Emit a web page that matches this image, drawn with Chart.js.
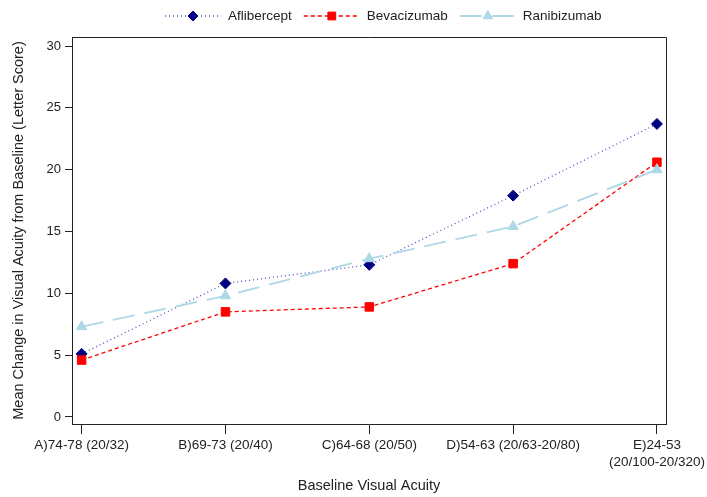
<!DOCTYPE html>
<html>
<head>
<meta charset="utf-8">
<script src="https://cdn.jsdelivr.net/npm/chart.js@4"></script>
<style>
  html, body { margin: 0; padding: 0; background: #fff; }
  canvas { display: block; }
</style>
</head>
<body>
<canvas id="acuityChart" width="707" height="497"></canvas>
<script>
// category labels (last one wraps on two lines)
const categories = [
  "A)74-78 (20/32)",
  "B)69-73 (20/40)",
  "C)64-68 (20/50)",
  "D)54-63 (20/63-20/80)",
  ["E)24-53", "(20/100-20/320)"]
];
const aflibercept = [5.1, 10.8, 12.3, 17.9, 23.7];
const bevacizumab = [4.6, 8.5, 8.9, 12.4, 20.6];
const ranibizumab = [7.3, 9.8, 12.8, 15.4, 20.0];
const yTicks = [0, 5, 10, 15, 20, 25, 30];

const FONT = "'Liberation Sans', Arial, Helvetica, sans-serif";

function toPoints(values) {
  return values.map((v, i) => ({ x: i, y: v }));
}

const seriesStyle = [
  { label: "Aflibercept", data: aflibercept, line: "#5050c0", fill: "#000080", dash: [1, 3], width: 1.3, shape: "rectRot", radius: 5.5 },
  { label: "Bevacizumab", data: bevacizumab, line: "#ff0000", fill: "#ff0000", dash: [4, 3], width: 1.3, shape: "rect", radius: 6 },
  { label: "Ranibizumab", data: ranibizumab, line: "#add8e6", fill: "#add8e6", dash: [22, 10], width: 1.8, shape: "triangle", radius: 6 }
];

// frame on all four sides + legend with line samples
const framePlugin = {
  id: "frameAndLegend",
  afterDraw(chart) {
    const { ctx, chartArea } = chart;
    ctx.save();
    ctx.strokeStyle = "#222";
    ctx.lineWidth = 1;
    ctx.beginPath();
    ctx.moveTo(chartArea.left, chartArea.top + 0.5);
    ctx.lineTo(chartArea.right + 0.5, chartArea.top + 0.5);
    ctx.lineTo(chartArea.right + 0.5, chartArea.bottom);
    ctx.stroke();

    // legend
    ctx.font = "13.5px " + FONT;
    ctx.textBaseline = "middle";
    let x = 165;
    const y = 16;
    seriesStyle.forEach((s) => {
      ctx.strokeStyle = s.line;
      ctx.lineWidth = s.width;
      ctx.setLineDash(s.dash);
      ctx.beginPath();
      ctx.moveTo(x, y);
      ctx.lineTo(x + 55, y);
      ctx.stroke();
      ctx.setLineDash([]);
      ctx.fillStyle = s.fill;
      ctx.strokeStyle = s.fill;
      ctx.lineWidth = 1;
      Chart.helpers.drawPoint(ctx, { pointStyle: s.shape, radius: s.radius - 0.5, borderWidth: 1 }, x + 28, y);
      ctx.fillStyle = "#222";
      ctx.fillText(s.label, x + 63, y);
      x += 63 + ctx.measureText(s.label).width + 12;
    });
    ctx.restore();
  }
};

const ctx = document.getElementById("acuityChart").getContext("2d");
const myChart = new Chart(ctx, {
  type: "line",
  data: {
    datasets: seriesStyle.map((s, i) => ({
      label: s.label,
      data: toPoints(s.data),
      borderColor: s.line,
      borderWidth: s.width,
      borderDash: s.dash,
      pointStyle: s.shape,
      pointRadius: s.radius,
      pointBackgroundColor: s.fill,
      pointBorderColor: s.fill,
      pointBorderWidth: 1,
      tension: 0,
      order: 3 - i
    }))
  },
  options: {
    responsive: false,
    animation: false,
    devicePixelRatio: 1,
    layout: { padding: { top: 37, right: 41, left: 0, bottom: 0 } },
    plugins: { legend: { display: false }, tooltip: { enabled: false } },
    scales: {
      x: {
        type: "linear",
        min: -0.067,
        max: 4.063,
        afterBuildTicks: (scale) => { scale.ticks = categories.map((c, i) => ({ value: i })); },
        afterFit: (scale) => {
          scale.height = 73;
          scale.paddingLeft = 0;
          scale.paddingRight = 0;
        },
        grid: { drawOnChartArea: false, drawTicks: true, tickLength: 10, tickColor: "#222" },
        border: { display: true, color: "#222", width: 1 },
        ticks: {
          autoSkip: false,
          maxRotation: 0,
          padding: 3,
          color: "#222",
          font: { family: FONT, size: 13.5, lineHeight: 1.26 },
          callback: (v) => categories[v]
        },
        title: {
          display: true,
          text: "Baseline Visual Acuity",
          color: "#222",
          font: { family: FONT, size: 14.5 },
          padding: { top: 0, bottom: 2.3 }
        }
      },
      y: {
        min: -0.57,
        max: 30.73,
        afterBuildTicks: (scale) => { scale.ticks = yTicks.map((v) => ({ value: v })); },
        afterFit: (scale) => { scale.width = 72; },
        grid: { drawOnChartArea: false, drawTicks: true, tickLength: 7, tickColor: "#222" },
        border: { display: true, color: "#222", width: 1 },
        ticks: {
          padding: 4,
          color: "#222",
          font: { family: FONT, size: 13 }
        },
        title: {
          display: true,
          text: "Mean Change in Visual Acuity from Baseline (Letter Score)",
          color: "#222",
          font: { family: FONT, size: 14.5 },
          padding: { top: 10.3, bottom: 0 }
        }
      }
    }
  },
  plugins: [framePlugin]
});
</script>
</body>
</html>
